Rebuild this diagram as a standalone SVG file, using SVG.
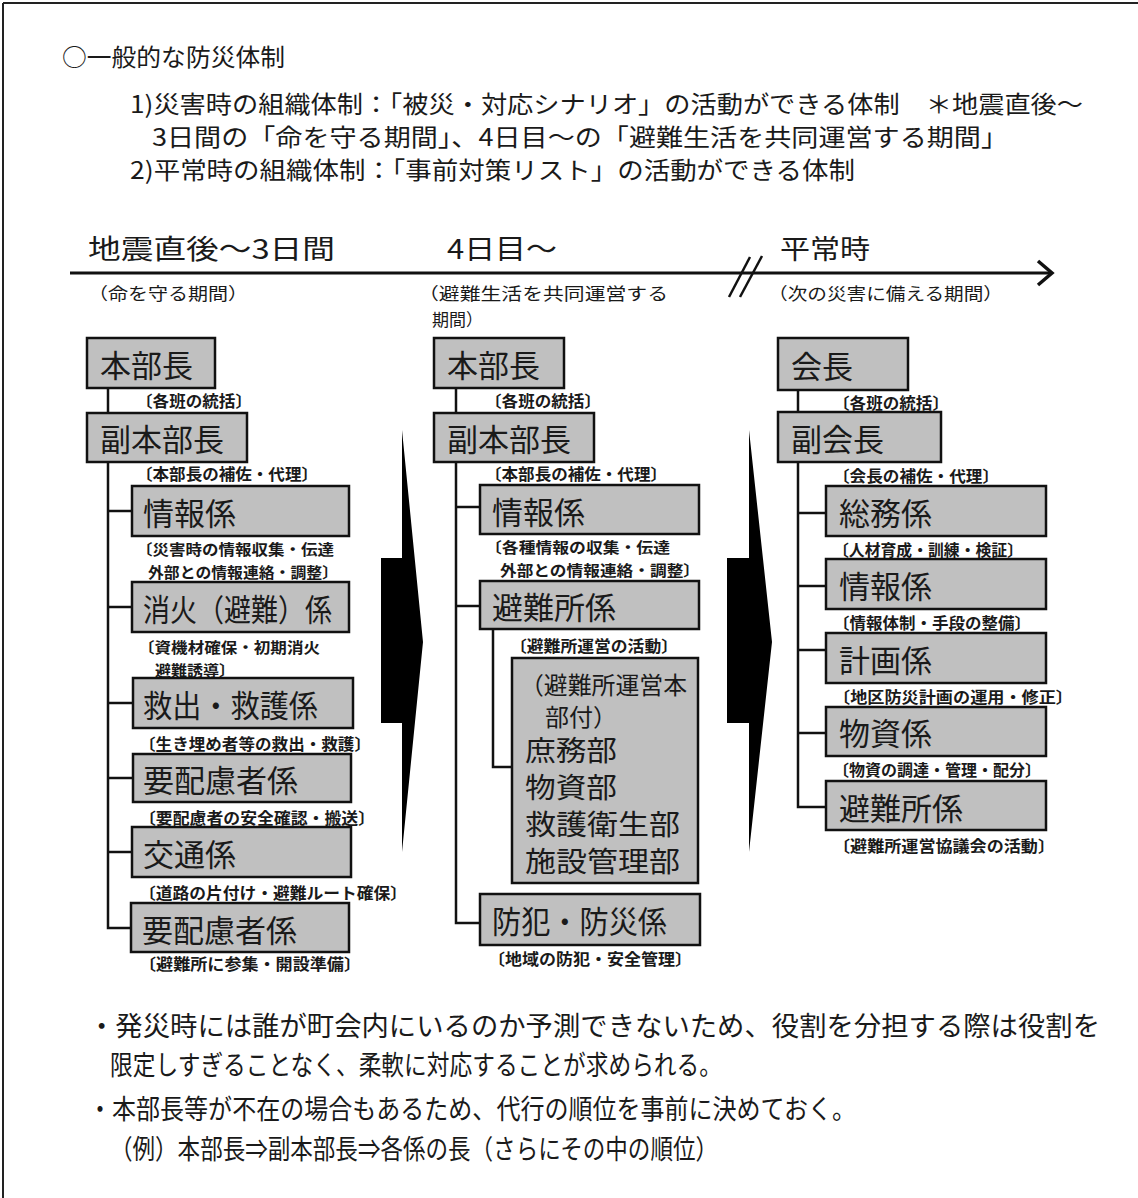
<svg xmlns="http://www.w3.org/2000/svg" width="1138" height="1198" viewBox="0 0 1138 1198">
<style>
text{font-family:"Noto Sans CJK JP","Noto Sans CJK SC",sans-serif;fill:#1a1a1a;dominant-baseline:central}
.box{fill:#c0c0c0;stroke:#111;stroke-width:2.5}
.big{font-size:31px}
.bx{font-size:28px}
.mid{font-size:24px}
.sm{font-size:16px;font-weight:bold}
.sm2{font-size:15px;font-weight:bold}
.hd{font-size:24px}
.tl{font-size:27px}
.sub{font-size:17px}
.conn line,.conn polyline{stroke:#111;stroke-width:2.5;fill:none}
</style>
<rect width="1138" height="1198" fill="#fff"/>
<line x1="3" y1="3" x2="1138" y2="3" stroke="#222" stroke-width="2"/>
<line x1="3" y1="3" x2="3" y2="1198" stroke="#222" stroke-width="2"/>

<g id="header">
<text x="62" y="55" class="hd" textLength="223" lengthAdjust="spacingAndGlyphs">○一般的な防災体制</text>
<text x="130" y="102" class="hd" textLength="953" lengthAdjust="spacingAndGlyphs">1)災害時の組織体制：「被災・対応シナリオ」の活動ができる体制　＊地震直後～</text>
<text x="152" y="135" class="hd" textLength="856" lengthAdjust="spacingAndGlyphs">3日間の「命を守る期間」、4日目～の「避難生活を共同運営する期間」</text>
<text x="130" y="168" class="hd" textLength="725" lengthAdjust="spacingAndGlyphs">2)平常時の組織体制：「事前対策リスト」の活動ができる体制</text>
</g>

<g id="timeline">
<text x="88" y="247" class="tl" textLength="247" lengthAdjust="spacingAndGlyphs">地震直後～3日間</text>
<text x="447" y="247" class="tl" textLength="110" lengthAdjust="spacingAndGlyphs">4日目～</text>
<text x="780" y="247" class="tl" textLength="90" lengthAdjust="spacingAndGlyphs">平常時</text>
<line x1="70" y1="273" x2="1051" y2="273" stroke="#111" stroke-width="3"/>
<polyline points="1038,261 1052,273 1038,285" fill="none" stroke="#111" stroke-width="3.5"/>
<line x1="729" y1="297" x2="750" y2="257" stroke="#111" stroke-width="2.5"/>
<line x1="740" y1="297" x2="762" y2="256" stroke="#111" stroke-width="2.5"/>
<text x="88" y="292" class="sub" textLength="160" lengthAdjust="spacingAndGlyphs">（命を守る期間）</text>
<text x="418" y="292" class="sub" textLength="250" lengthAdjust="spacingAndGlyphs">（避難生活を共同運営する</text>
<text x="432" y="318" class="sub">期間）</text>
<text x="768" y="292" class="sub" textLength="235" lengthAdjust="spacingAndGlyphs">（次の災害に備える期間）</text>
</g>

<g id="arrows">
<polygon points="402,430 423,642 402,852 402,723 381,723 381,558 402,558" fill="#000"/>
<polygon points="749,430 772,642 749,852 749,723 727,723 727,558 749,558" fill="#000"/>
</g>

<g id="connectors" class="conn">
<line x1="108" y1="388" x2="108" y2="413"/>
<polyline points="108,462 108,928 132,928"/>
<line x1="108" y1="511" x2="132" y2="511"/>
<line x1="108" y1="607" x2="132" y2="607"/>
<line x1="108" y1="703" x2="133" y2="703"/>
<line x1="108" y1="778" x2="133" y2="778"/>
<line x1="108" y1="852" x2="132" y2="852"/>
<line x1="456" y1="388" x2="456" y2="413"/>
<polyline points="456,462 456,923 480,923"/>
<line x1="456" y1="507" x2="480" y2="507"/>
<line x1="456" y1="606" x2="480" y2="606"/>
<polyline points="493,629 493,767 512,767"/>
<line x1="798" y1="390" x2="798" y2="412"/>
<polyline points="798,462 798,807 826,807"/>
<line x1="798" y1="513" x2="826" y2="513"/>
<line x1="798" y1="586" x2="826" y2="586"/>
<line x1="798" y1="650" x2="826" y2="650"/>
<line x1="798" y1="733" x2="826" y2="733"/>
</g>

<g id="c1-honbucho"><rect class="box" x="87" y="338" width="128" height="50"/><text x="100" y="363" class="big">本部長</text></g>
<g id="c1-honbucho-note"><text x="136" y="400" class="sm" textLength="116" lengthAdjust="spacingAndGlyphs">〔各班の統括〕</text></g>
<g id="c1-fuku"><rect class="box" x="87" y="413" width="160" height="49"/><text x="100" y="437" class="big">副本部長</text></g>
<g id="c1-fuku-note"><text x="136" y="473" class="sm" textLength="182" lengthAdjust="spacingAndGlyphs">〔本部長の補佐・代理〕</text></g>
<g id="c1-joho"><rect class="box" x="132" y="486" width="217" height="50"/><text x="143" y="511" class="big">情報係</text>
<text x="136" y="548" class="sm2" textLength="198" lengthAdjust="spacingAndGlyphs">〔災害時の情報収集・伝達</text><text x="148" y="571" class="sm2" textLength="190" lengthAdjust="spacingAndGlyphs">外部との情報連絡・調整〕</text></g>
<g id="c1-shoka"><rect class="box" x="132" y="582" width="217" height="50"/><text x="143" y="607" class="big" textLength="189" lengthAdjust="spacingAndGlyphs">消火（避難）係</text>
<text x="138" y="646" class="sm2" textLength="182" lengthAdjust="spacingAndGlyphs">〔資機材確保・初期消火</text><text x="155" y="669" class="sm2" textLength="80" lengthAdjust="spacingAndGlyphs">避難誘導〕</text></g>
<g id="c1-kyushutsu"><rect class="box" x="133" y="678" width="220" height="50"/><text x="143" y="703" class="big" textLength="175" lengthAdjust="spacingAndGlyphs">救出・救護係</text>
<text x="139" y="743" class="sm" textLength="232" lengthAdjust="spacingAndGlyphs">〔生き埋め者等の救出・救護〕</text></g>
<g id="c1-yohairyo"><rect class="box" x="133" y="754" width="218" height="48"/><text x="143" y="778" class="big">要配慮者係</text>
<text x="139" y="817" class="sm" textLength="236" lengthAdjust="spacingAndGlyphs">〔要配慮者の安全確認・搬送〕</text></g>
<g id="c1-kotsu"><rect class="box" x="132" y="827" width="219" height="50"/><text x="143" y="852" class="big">交通係</text>
<text x="139" y="892" class="sm" textLength="268" lengthAdjust="spacingAndGlyphs">〔道路の片付け・避難ルート確保〕</text></g>
<g id="c1-yohairyo2"><rect class="box" x="131" y="903" width="218" height="49"/><text x="142" y="928" class="big">要配慮者係</text>
<text x="139" y="963" class="sm" textLength="222" lengthAdjust="spacingAndGlyphs">〔避難所に参集・開設準備〕</text></g>

<g id="c2-honbucho"><rect class="box" x="434" y="338" width="130" height="50"/><text x="447" y="363" class="big">本部長</text>
<text x="485" y="400" class="sm" textLength="116" lengthAdjust="spacingAndGlyphs">〔各班の統括〕</text></g>
<g id="c2-fuku"><rect class="box" x="434" y="413" width="160" height="49"/><text x="447" y="437" class="big">副本部長</text>
<text x="485" y="473" class="sm" textLength="182" lengthAdjust="spacingAndGlyphs">〔本部長の補佐・代理〕</text></g>
<g id="c2-joho"><rect class="box" x="480" y="485" width="219" height="49"/><text x="492" y="510" class="big">情報係</text>
<text x="485" y="546" class="sm2" textLength="185" lengthAdjust="spacingAndGlyphs">〔各種情報の収集・伝達</text><text x="500" y="569" class="sm2" textLength="200" lengthAdjust="spacingAndGlyphs">外部との情報連絡・調整〕</text></g>
<g id="c2-hinanjo"><rect class="box" x="480" y="581" width="219" height="48"/><text x="492" y="605" class="big">避難所係</text>
<text x="510" y="645" class="sm" textLength="168" lengthAdjust="spacingAndGlyphs">〔避難所運営の活動〕</text></g>
<g id="c2-honbu"><rect class="box" x="512" y="658" width="186" height="225"/>
<text x="520" y="683" class="mid" textLength="167" lengthAdjust="spacingAndGlyphs">（避難所運営本</text><text x="545" y="715" class="mid">部付）</text>
<text x="525" y="749" class="bx" textLength="92" lengthAdjust="spacingAndGlyphs">庶務部</text><text x="525" y="786" class="bx" textLength="92" lengthAdjust="spacingAndGlyphs">物資部</text>
<text x="525" y="823" class="bx" textLength="155" lengthAdjust="spacingAndGlyphs">救護衛生部</text><text x="525" y="860" class="bx" textLength="155" lengthAdjust="spacingAndGlyphs">施設管理部</text></g>
<g id="c2-bohan"><rect class="box" x="480" y="894" width="220" height="51"/><text x="492" y="919" class="big" textLength="175" lengthAdjust="spacingAndGlyphs">防犯・防災係</text>
<text x="488" y="958" class="sm" textLength="204" lengthAdjust="spacingAndGlyphs">〔地域の防犯・安全管理〕</text></g>

<g id="c3-kaicho"><rect class="box" x="778" y="338" width="130" height="52"/><text x="791" y="364" class="big">会長</text>
<text x="833" y="402" class="sm" textLength="116" lengthAdjust="spacingAndGlyphs">〔各班の統括〕</text></g>
<g id="c3-fuku"><rect class="box" x="778" y="412" width="163" height="50"/><text x="791" y="437" class="big">副会長</text>
<text x="833" y="475" class="sm" textLength="166" lengthAdjust="spacingAndGlyphs">〔会長の補佐・代理〕</text></g>
<g id="c3-somu"><rect class="box" x="826" y="486" width="220" height="50"/><text x="839" y="511" class="big">総務係</text>
<text x="833" y="549" class="sm" textLength="190" lengthAdjust="spacingAndGlyphs">〔人材育成・訓練・検証〕</text></g>
<g id="c3-joho"><rect class="box" x="826" y="559" width="220" height="50"/><text x="839" y="584" class="big">情報係</text>
<text x="833" y="622" class="sm" textLength="198" lengthAdjust="spacingAndGlyphs">〔情報体制・手段の整備〕</text></g>
<g id="c3-keikaku"><rect class="box" x="826" y="633" width="220" height="50"/><text x="839" y="658" class="big">計画係</text>
<text x="833" y="696" class="sm" textLength="240" lengthAdjust="spacingAndGlyphs">〔地区防災計画の運用・修正〕</text></g>
<g id="c3-busshi"><rect class="box" x="826" y="707" width="220" height="49"/><text x="839" y="731" class="big">物資係</text>
<text x="833" y="769" class="sm" textLength="208" lengthAdjust="spacingAndGlyphs">〔物資の調達・管理・配分〕</text></g>
<g id="c3-hinanjo"><rect class="box" x="826" y="781" width="220" height="49"/><text x="839" y="806" class="big">避難所係</text>
<text x="833" y="845" class="sm" textLength="222" lengthAdjust="spacingAndGlyphs">〔避難所運営協議会の活動〕</text></g>

<g id="notes">
<text x="88" y="1024" class="tl" textLength="1012" lengthAdjust="spacingAndGlyphs">・発災時には誰が町会内にいるのか予測できないため、役割を分担する際は役割を</text>
<text x="110" y="1063" class="tl" textLength="612" lengthAdjust="spacingAndGlyphs">限定しすぎることなく、柔軟に対応することが求められる。</text>
<text x="88" y="1107" class="tl" textLength="768" lengthAdjust="spacingAndGlyphs">・本部長等が不在の場合もあるため、代行の順位を事前に決めておく。</text>
<text x="110" y="1147" class="tl" textLength="608" lengthAdjust="spacingAndGlyphs">（例）本部長⇒副本部長⇒各係の長（さらにその中の順位）</text>
</g>
</svg>
